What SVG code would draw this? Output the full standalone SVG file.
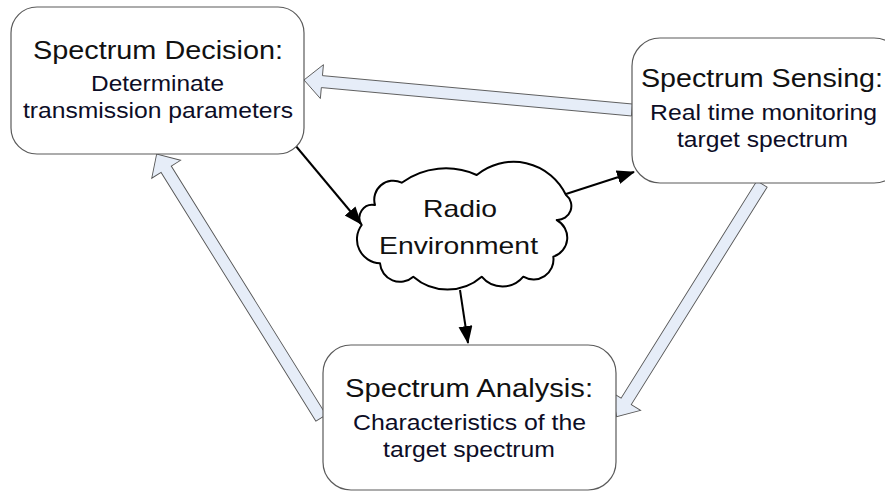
<svg xmlns="http://www.w3.org/2000/svg" width="885" height="491" viewBox="0 0 885 491">
  <style>
    .box { fill: #ffffff; stroke: #5a5a5a; stroke-width: 1.2; }
    .cloud { fill: #ffffff; stroke: #000000; stroke-width: 2; stroke-linejoin: round; }
    .title { font-family: "Liberation Sans", Arial, sans-serif; font-size: 25.5px; fill: #111111; text-anchor: middle; }
    .body { font-family: "Liberation Sans", Arial, sans-serif; font-size: 22px; fill: #0d0d26; text-anchor: middle; }
    .cloudtext { font-family: "Liberation Sans", Arial, sans-serif; font-size: 24px; fill: #111111; text-anchor: middle; }
    .flow { fill: #e6edf8; stroke: #555555; stroke-width: 0.9; stroke-linejoin: miter; }
    .link { fill: none; stroke: #000000; stroke-width: 2; marker-end: url(#head); }
  </style>
  <defs>
    <marker id="head" markerUnits="userSpaceOnUse" markerWidth="20" markerHeight="16" refX="17" refY="7" orient="auto">
      <path d="M0,0 L18,7 L0,14 Z" fill="#000000"/>
    </marker>
  </defs>

  <rect width="885" height="491" fill="#ffffff"/>

  <g id="connectors">
    <!-- wide block arrows of the cycle: sensing -> decision, sensing -> analysis, analysis -> decision -->
    <polygon class="flow" transform="translate(632,110) rotate(185.23)" points="0,-6 311.4,-6 311.4,-17 329.4,0 311.4,17 311.4,6 0,6"/>
    <polygon class="flow" transform="translate(762,184) rotate(122.0)" points="0,-6 256.3,-6 256.3,-17 274.3,0 256.3,17 256.3,6 0,6"/>
    <polygon class="flow" transform="translate(321,418) rotate(238.1)" points="0,-6 293,-6 293,-17 311,0 293,17 293,6 0,6"/>
    <!-- thin arrows through the radio environment -->
    <path class="link" d="M295,145 L361,224"/>
    <path class="link" d="M566,194 L634,172"/>
    <path class="link" d="M460,290 L468,343"/>
  </g>

  <g id="spectrum-decision">
    <rect class="box" x="11" y="7" width="293" height="147" rx="26" ry="26"/>
    <text class="title" x="158" y="58.5" textLength="250" lengthAdjust="spacingAndGlyphs">Spectrum Decision:</text>
    <text class="body" x="157.5" y="90.7" textLength="133" lengthAdjust="spacingAndGlyphs">Determinate</text>
    <text class="body" x="158" y="117.5" textLength="270" lengthAdjust="spacingAndGlyphs">transmission parameters</text>
  </g>

  <g id="spectrum-sensing">
    <rect class="box" x="632" y="38" width="270" height="145" rx="28" ry="28"/>
    <text class="title" x="762" y="87" textLength="242" lengthAdjust="spacingAndGlyphs">Spectrum Sensing:</text>
    <text class="body" x="763.5" y="119.5" textLength="227" lengthAdjust="spacingAndGlyphs">Real time monitoring</text>
    <text class="body" x="762.5" y="146.5" textLength="171" lengthAdjust="spacingAndGlyphs">target spectrum</text>
  </g>

  <g id="spectrum-analysis">
    <rect class="box" x="323" y="345" width="293" height="145" rx="28" ry="28"/>
    <text class="title" x="469" y="397" textLength="248" lengthAdjust="spacingAndGlyphs">Spectrum Analysis:</text>
    <text class="body" x="469.5" y="429.5" textLength="233" lengthAdjust="spacingAndGlyphs">Characteristics of the</text>
    <text class="body" x="469" y="457" textLength="172" lengthAdjust="spacingAndGlyphs">target spectrum</text>
  </g>

  <g id="radio-environment">
    <path class="cloud" d="M361.7,225 A13,13 0 0 1 375,205 A19,19 0 0 1 401.7,182.7 A75,75 0 0 1 476.7,175 A58,58 0 0 1 566,195 A14,14 0 0 1 556.7,220 A20,20 0 0 1 553.3,256.7 A20,20 0 0 1 523.3,276.7 A27,27 0 0 1 481.7,276.7 A52,52 0 0 1 413.3,276.7 A20,20 0 0 1 380,263.3 A24,24 0 0 1 361.7,225 Z"/>
    <text class="cloudtext" x="460" y="216.7" textLength="74" lengthAdjust="spacingAndGlyphs">Radio</text>
    <text class="cloudtext" x="458.5" y="254" textLength="159" lengthAdjust="spacingAndGlyphs">Environment</text>
  </g>
</svg>
